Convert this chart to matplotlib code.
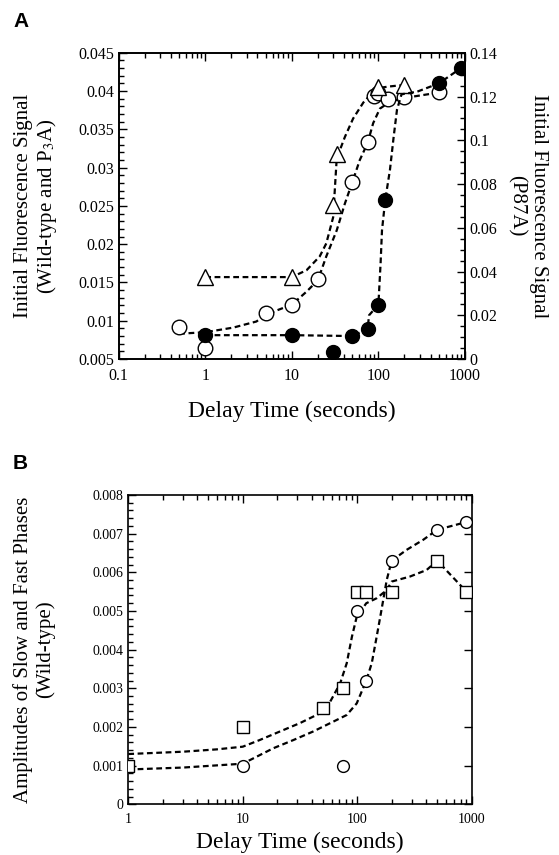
import numpy as np
import matplotlib
matplotlib.use("Agg")
import matplotlib.pyplot as plt
from matplotlib.ticker import FixedLocator, LogLocator, MultipleLocator, FuncFormatter, NullFormatter

plt.rcParams['font.family'] = ['Liberation Serif', 'DejaVu Serif']
plt.rcParams['mathtext.fontset'] = 'stix'

# ---- Panel A data (delay time in seconds) ----
wt_x = [0.5, 1, 5, 10, 20, 50, 75, 88, 100, 128, 200, 500]
wt_y = [0.0092, 0.0065, 0.011, 0.0121, 0.0154, 0.0281, 0.0333, 0.0393, 0.0397, 0.0389, 0.0392, 0.0399]
p3a_x = [1, 10, 30, 33, 100, 200]
p3a_y = [0.0157, 0.0157, 0.0251, 0.0318, 0.0405, 0.0408]
p87a_x = [1, 10, 30, 50, 75, 100, 120, 500, 900]
p87a_y = [0.011, 0.0108, 0.0033, 0.0105, 0.0137, 0.0247, 0.0727, 0.126, 0.133]

# dashed fit curves
wt_fit_x = [0.5, 1, 2.1, 3.9, 5, 10, 14.8, 20, 25, 33, 41, 50, 61, 75, 87, 104, 136, 200, 500]
wt_fit_y = [0.0083, 0.0085, 0.0091, 0.0099, 0.0108, 0.0121, 0.0138, 0.0153, 0.0184, 0.0218,
            0.0253, 0.0281, 0.031, 0.0332, 0.0358, 0.0377, 0.0386, 0.0391, 0.0398]
p3a_fit_x = [1, 10, 14.8, 21, 25, 30, 33, 41, 51, 67, 84, 100, 135, 200]
p3a_fit_y = [0.0157, 0.0157, 0.0166, 0.0184, 0.0201, 0.0235, 0.0312, 0.034, 0.0364, 0.0385,
             0.0397, 0.0404, 0.0406, 0.0408]
p87a_fit_x = [1, 10, 50, 75, 78, 100, 106, 110, 120, 136, 150, 164, 185, 280, 500, 900]
p87a_fit_y = [0.0109, 0.0109, 0.0105, 0.0137, 0.0200, 0.0249, 0.0438, 0.0588, 0.0728, 0.0865,
              0.1015, 0.114, 0.121, 0.1222, 0.126, 0.133]

# ---- Panel B data ----
slow_x = [10, 75, 100, 120, 200, 500, 900]
slow_y = [0.001, 0.001, 0.005, 0.0032, 0.0063, 0.0071, 0.0073]
fast_x = [1, 10, 50, 75, 100, 120, 200, 500, 900]
fast_y = [0.001, 0.002, 0.0025, 0.003, 0.0055, 0.0055, 0.0055, 0.0063, 0.0055]

slow_fit_x = [1, 3, 10, 13.2, 18.5, 27.6, 41, 62, 81, 99, 120, 134, 148, 163, 181, 200, 270, 377, 500, 900]
slow_fit_y = [0.0009, 0.00095, 0.00105, 0.00123, 0.00145, 0.00166, 0.00188, 0.00214, 0.00231,
              0.00261, 0.0032, 0.00365, 0.00434, 0.00503, 0.0058, 0.0063, 0.00658, 0.00684,
              0.0071, 0.0073]
fast_fit_x = [1, 3, 5.9, 10, 14, 21, 31.6, 47, 57, 71, 81, 90, 99, 120, 148, 181, 200, 289, 404, 500, 900]
fast_fit_y = [0.0013, 0.00136, 0.00142, 0.00149, 0.00166, 0.00188, 0.0021, 0.00235, 0.00261,
              0.00313, 0.00365, 0.00434, 0.00485, 0.0052, 0.00533, 0.00554, 0.00576, 0.00589,
              0.00606, 0.0063, 0.0055]

dash = dict(color='black', lw=1.6, ls=(0, (2.6, 1.6)), zorder=2)
mk_open = dict(ls='none', mfc='white', mec='black', mew=1.0, zorder=3)


def style_axis(ax, size):
    for sp in ax.spines.values():
        sp.set_linewidth(1.2)
    ax.tick_params(which='both', direction='in', top=True, labelsize=size, width=1.0)
    ax.tick_params(which='major', length=6)
    ax.tick_params(which='minor', length=3.5)
    ax.xaxis.set_major_formatter(FuncFormatter(lambda v, p: '%g' % v))
    ax.xaxis.set_minor_formatter(NullFormatter())
    ax.yaxis.set_major_formatter(FuncFormatter(lambda v, p: '%g' % v))


fig = plt.figure(figsize=(5.59, 8.55), dpi=100)

# ---- Panel A ----
axA = fig.add_axes([0.2123, 0.5801, 0.6195, 0.3582])
axA2 = axA.twinx()
axA.set_xscale('log')
axA.set_xlim(0.1, 1000)
axA.set_ylim(0.005, 0.045)
axA2.set_ylim(0, 0.14)

axA.plot(wt_fit_x, wt_fit_y, **dash)
axA.plot(p3a_fit_x, p3a_fit_y, **dash)
axA2.plot(p87a_fit_x, p87a_fit_y, **dash)
axA.plot(wt_x, wt_y, marker='o', ms=10.5, **mk_open)
axA.plot(p3a_x, p3a_y, marker='^', ms=11, **mk_open)
axA2.plot(p87a_x, p87a_y, ls='none', marker='o', ms=10, mfc='black', mec='black', zorder=3)

style_axis(axA, 11.5)
axA.tick_params(axis='y', right=False)
axA.yaxis.set_major_locator(MultipleLocator(0.005))
axA.yaxis.set_minor_locator(MultipleLocator(0.001))
axA.xaxis.set_major_locator(FixedLocator([0.1, 1, 10, 100, 1000]))
axA.xaxis.set_minor_locator(LogLocator(base=10, subs=np.arange(2, 10)))
axA.tick_params(axis='x', pad=6.5)

axA2.tick_params(which='both', direction='in', labelsize=11.5, width=1.0)
axA2.tick_params(which='major', length=6)
axA2.tick_params(which='minor', length=3.5)
axA2.yaxis.set_major_locator(MultipleLocator(0.02))
axA2.yaxis.set_minor_locator(MultipleLocator(0.005))
axA2.yaxis.set_major_formatter(FuncFormatter(lambda v, p: '%g' % v))
for sp in axA2.spines.values():
    sp.set_linewidth(1.2)

axA.set_xlabel('Delay Time (seconds)', fontsize=17)
axA.xaxis.set_label_coords(0.5, -0.135)
axA.set_ylabel('Initial Fluorescence Signal\n(Wild-type and P$_3$A)', fontsize=15, linespacing=1.15)
axA.yaxis.set_label_coords(-0.172, 0.5)
axA2.set_ylabel('Initial Fluorescence Signal\n(P87A)', fontsize=15, rotation=270,
                linespacing=1.15, va='center')
axA2.yaxis.set_label_coords(1.18, 0.5)

# ---- Panel B ----
axB = fig.add_axes([0.2295, 0.0593, 0.6143, 0.3618])
axB.set_xscale('log')
axB.set_xlim(1, 1000)
axB.set_ylim(0, 0.008)

axB.plot(slow_fit_x, slow_fit_y, **dash)
axB.plot(fast_fit_x, fast_fit_y, **dash)
axB.plot(slow_x, slow_y, marker='o', ms=8.5, **mk_open)
axB.plot(fast_x, fast_y, marker='s', ms=9, **mk_open)

style_axis(axB, 10)
axB.tick_params(axis='y', right=True)
axB.yaxis.set_major_locator(MultipleLocator(0.001))
axB.yaxis.set_minor_locator(MultipleLocator(0.0002))
axB.xaxis.set_major_locator(FixedLocator([1, 10, 100, 1000]))
axB.xaxis.set_minor_locator(LogLocator(base=10, subs=np.arange(2, 10)))
axB.tick_params(axis='x', pad=6)

axB.set_xlabel('Delay Time (seconds)', fontsize=17)
axB.xaxis.set_label_coords(0.5, -0.088)
axB.set_ylabel('Amplitudes of Slow and Fast Phases\n(Wild-type)', fontsize=15, linespacing=1.15)
axB.yaxis.set_label_coords(-0.213, 0.5)

fig.text(0.038, 0.975, 'A', fontsize=15, fontweight='bold', family='Liberation Sans',
         ha='center', va='center')
fig.text(0.036, 0.458, 'B', fontsize=15, fontweight='bold', family='Liberation Sans',
         ha='center', va='center')

fig.savefig('out.png', dpi=100)
